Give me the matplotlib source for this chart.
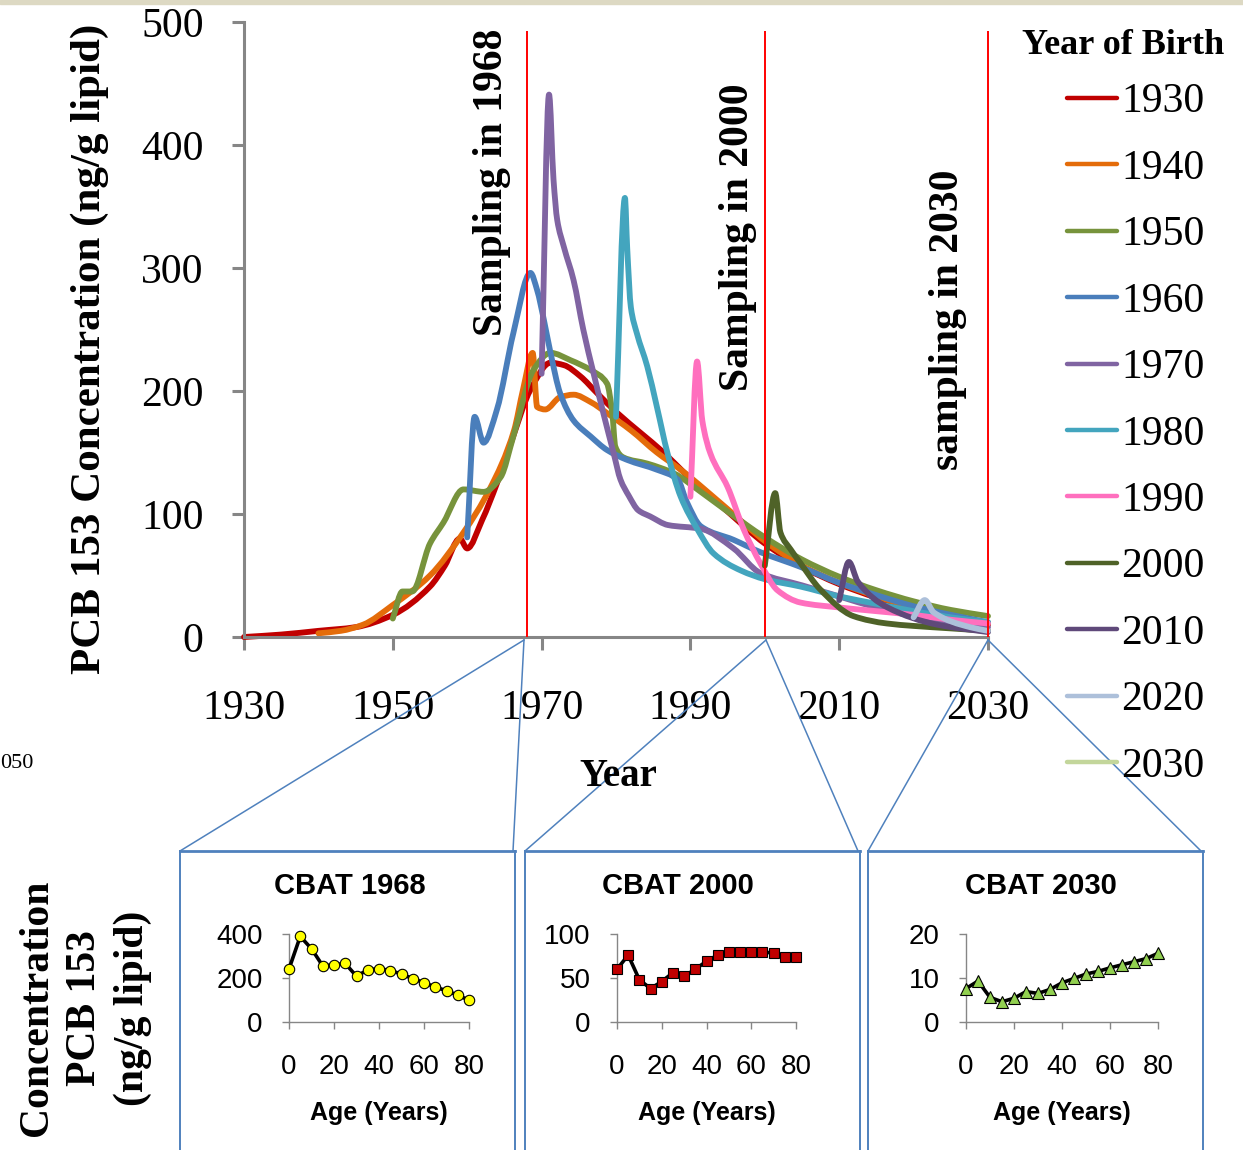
import matplotlib
matplotlib.use("Agg")
import matplotlib.pyplot as plt
from matplotlib.lines import Line2D
from matplotlib.patches import Rectangle, PathPatch
from matplotlib.path import Path

# ---------------- data ----------------
birth_years = [1930, 1940, 1950, 1960, 1970, 1980, 1990, 2000, 2010, 2020, 2030]
colors = ['#C00000', '#E46C0A', '#77933C', '#4A7EBB', '#8064A2', '#43A5BE',
          '#FF6FBE', '#4F6228', '#5F497A', '#ADC0DA', '#C3D69B']

yr_1930 = [1930, 1935, 1940, 1945, 1950, 1955, 1957, 1959, 1960, 1962, 1964, 1966, 1968.5, 1971.2, 1973, 1975.2,
           1977.5, 1980.2, 1983.3, 1986.4, 1989.1, 1995, 2000, 2005, 2010, 2015, 2020, 2025, 2030]
c_1930 = [0, 2, 5, 8, 18, 41, 58, 80, 72, 95, 125, 160, 201, 223, 221, 212,
          198, 182, 166, 150, 134, 102, 76, 57, 43, 32, 23, 16, 10]

yr_1940 = [1940, 1943, 1946, 1950, 1955, 1959.5, 1963, 1966.3, 1967.5, 1968.8, 1969.4, 1970.5, 1972.5, 1974.3,
           1976.6, 1978.8, 1982, 1985.5, 1988.7, 1995, 2000, 2005, 2010, 2015, 2020, 2025, 2030]
c_1940 = [3, 5, 10, 26, 50, 85, 120, 168, 201, 231, 187, 185, 195, 197,
          191, 182, 168, 150, 136, 104, 78, 58, 44, 33, 24, 16, 11]

yr_1950 = [1950, 1951.3, 1952.6, 1955, 1956.8, 1959.5, 1962.2, 1964.5, 1966.2, 1968.9, 1971.2, 1973.9, 1976.6,
           1978.8, 1979.5, 1979.9, 1981, 1984.2, 1987.8, 1991.4, 1995, 2000, 2005, 2010, 2015, 2020, 2025, 2030]
c_1950 = [15, 37, 37, 76, 93, 120, 118, 130, 163, 217, 231, 225, 217,
          206, 182, 155, 146, 141, 133, 118, 102, 81, 63, 49, 38, 29, 22, 17]

yr_1960 = [1960, 1961, 1962.2, 1964, 1966.2, 1968.5, 1969.4, 1970.3, 1971.2, 1972.5, 1974.3, 1976.6, 1978.8,
           1981.5, 1985.5, 1988.3, 1989.5, 1991.4, 1995.8, 1999.4, 2004.8, 2010, 2015, 2020, 2025, 2030]
c_1960 = [81, 179, 158, 185, 247, 296, 282, 258, 231, 198, 176, 163, 152,
          144, 136, 128, 110, 90, 79, 69, 57, 44, 34, 25, 18, 12]

yr_1970 = [1970, 1971, 1971.6, 1972.1, 1973, 1974.3, 1975.6, 1977, 1978.3, 1979.7, 1980.6, 1981.7, 1983,
           1984.6, 1987, 1991.4, 1995.8, 1999.4, 2005, 2010, 2015, 2020, 2025, 2030]
c_1970 = [214, 441, 372, 339, 317, 290, 250, 214, 182, 149, 128, 115, 103,
          98, 91, 88, 72, 52, 42, 33, 24, 17, 12, 8]

yr_1980 = [1980, 1981.2, 1981.5, 1982, 1982.8, 1984.2, 1985.5, 1986.9, 1988.7, 1991, 1993.1, 1996.8, 2000,
           2004.8, 2010, 2015, 2020, 2025, 2030]
c_1980 = [179, 357, 317, 268, 247, 220, 187, 150, 114, 87, 68, 54, 47,
          41, 33, 27, 21, 16, 12]

yr_1990 = [1990, 1990.9, 1991.6, 1992.7, 1995, 1997.2, 1999.4, 2001.7, 2004.8, 2010, 2015, 2020, 2025, 2030]
c_1990 = [114, 224, 176, 149, 122, 87, 60, 38, 28, 24, 21, 18, 14, 11]

yr_2000 = [2000, 2001.4, 2002.1, 2003.5, 2004.8, 2007.4, 2011.9, 2016.4, 2020, 2025, 2030]
c_2000 = [58, 117, 85, 71, 60, 39, 17, 11, 9, 7, 5]

yr_2010 = [2010, 2011.3, 2012.5, 2016.5, 2023.2, 2030]
c_2010 = [30, 61, 45, 24, 10, 4]

yr_2020 = [2020, 2021.5, 2022.7, 2027.6, 2030]
c_2020 = [16, 30, 20, 8, 5]

yr_2030 = [2030]
c_2030 = [7.6]

series_years = [yr_1930, yr_1940, yr_1950, yr_1960, yr_1970, yr_1980, yr_1990, yr_2000, yr_2010, yr_2020, yr_2030]
series_conc = [c_1930, c_1940, c_1950, c_1960, c_1970, c_1980, c_1990, c_2000, c_2010, c_2020, c_2030]

sampling_years = [1968, 2000, 2030]
sampling_labels = ["Sampling in 1968", "Sampling in 2000", "sampling in 2030"]

x_ticks = [1930, 1950, 1970, 1990, 2010, 2030]
y_ticks = [0, 100, 200, 300, 400, 500]

ages = [0, 5, 10, 15, 20, 25, 30, 35, 40, 45, 50, 55, 60, 65, 70, 75, 80]
cbat_1968 = [241, 389, 333, 255, 260, 266, 208, 237, 243, 234, 218, 197, 179, 159, 142, 122, 99]
cbat_2000 = [60, 76, 48, 38, 46, 56, 52, 60, 69, 76, 79, 80, 80, 80, 78, 74, 74]
cbat_2030 = [7.6, 9.3, 5.6, 4.6, 5.4, 6.9, 6.5, 7.4, 8.9, 9.9, 10.9, 11.5, 12.3, 13.0, 13.7, 14.4, 15.6]
cbat_titles = ["CBAT 1968", "CBAT 2000", "CBAT 2030"]
cbat_yticks = [[0, 200, 400], [0, 50, 100], [0, 10, 20]]
age_ticks = [0, 20, 40, 60, 80]

# ---------------- figure ----------------
W, H = 1243, 1150
fig = plt.figure(figsize=(W / 100, H / 100), dpi=100)


def fx(px):
    return px / W


def fy(py):
    return 1 - py / H


SERIF = ['Liberation Serif', 'DejaVu Serif']
SANS = ['Liberation Sans', 'DejaVu Sans']
GREY = '#868686'
BOXBLUE = '#4F81BD'


def smooth_path(xs, ys):
    """Smoothed (monotone cubic Hermite) rendering path through the given points."""
    n = len(xs)
    h = [xs[k + 1] - xs[k] for k in range(n - 1)]
    d = [(ys[k + 1] - ys[k]) / h[k] for k in range(n - 1)]
    m = [0.0] * n
    m[0] = d[0]
    m[-1] = d[-1]
    for k in range(1, n - 1):
        if d[k - 1] * d[k] <= 0:
            m[k] = 0.0
        else:
            w1 = 2 * h[k] + h[k - 1]
            w2 = h[k] + 2 * h[k - 1]
            m[k] = (w1 + w2) / (w1 / d[k - 1] + w2 / d[k])
    verts = [(xs[0], ys[0])]
    codes = [Path.MOVETO]
    for k in range(n - 1):
        t = h[k] / 3.0
        verts += [(xs[k] + t, ys[k] + m[k] * t), (xs[k + 1] - t, ys[k + 1] - m[k + 1] * t), (xs[k + 1], ys[k + 1])]
        codes += [Path.CURVE4] * 3
    return Path(verts, codes)


# top beige strip
fig.patches.append(Rectangle((0, fy(4)), 1, fy(0) - fy(4), transform=fig.transFigure,
                             color='#DDD9C3', zorder=0))

# main axes
ax = fig.add_axes([fx(244), fy(637), fx(988) - fx(244), fy(22) - fy(637)])
ax.set_xlim(1930, 2030)
ax.set_ylim(0, 500)
for s in ['top', 'right']:
    ax.spines[s].set_visible(False)
for s in ['left', 'bottom']:
    ax.spines[s].set_color(GREY)
    ax.spines[s].set_linewidth(2.2)
ax.set_xticks(x_ticks)
ax.set_yticks(y_ticks)
ax.tick_params(axis='both', colors=GREY, width=2.2, length=9, direction='out', labelcolor='black')
ax.tick_params(axis='x', pad=29)
ax.tick_params(axis='y', pad=20)
for lab in ax.get_xticklabels() + ax.get_yticklabels():
    lab.set_fontfamily(SERIF)
    lab.set_fontsize(30)

handles = []
for yrs, conc, col, by in zip(series_years, series_conc, colors, birth_years):
    if len(yrs) > 1:
        ax.add_patch(PathPatch(smooth_path(yrs, conc), fill=False, edgecolor=col, lw=4.2,
                               capstyle='round', joinstyle='round', clip_on=False, zorder=2))
    else:
        ax.plot(yrs, conc, color=col, lw=4.2, clip_on=False, zorder=2)
    handles.append(Line2D([], [], color=col, lw=3.2, solid_capstyle='round', label=str(by)))

ax.vlines(sampling_years, 0, 493, colors='#FF0000', lw=1.4, zorder=3, clip_on=False)

# sampling labels
for px, py, txt in zip([492, 738, 948], [182, 237, 320], sampling_labels):
    fig.text(fx(px), fy(py), txt, rotation=90, ha='center', va='center',
             fontsize=30, fontweight='bold', family=SERIF)

# axis labels
fig.text(fx(90), fy(349), "PCB 153 Concentration (ng/g lipid)", rotation=90, ha='center', va='center',
         fontsize=31, fontweight='bold', family=SERIF)
fig.text(fx(618), fy(776), "Year", ha='center', va='center', fontsize=28, fontweight='bold', family=SERIF)
fig.text(fx(0), fy(763), "050", ha='left', va='center', fontsize=16, family=SERIF)

# legend
fig.text(fx(1123), fy(45), "Year of Birth", ha='center', va='center',
         fontsize=26, fontweight='bold', family=SERIF)
leg = fig.legend(handles=handles, loc='upper left', bbox_to_anchor=(fx(1067), fy(83)),
                 bbox_transform=fig.transFigure, frameon=False,
                 prop={'family': SERIF, 'size': 30},
                 handlelength=1.2, handletextpad=0.1, labelspacing=0.67, borderpad=0, borderaxespad=0)


# boxes & connectors
def fline(x0, y0, x1, y1, lw):
    fig.add_artist(Line2D([fx(x0), fx(x1)], [fy(y0), fy(y1)], transform=fig.transFigure,
                          color=BOXBLUE, lw=lw, clip_on=False))


for (l, r), apex in zip([(180, 515), (525, 860), (868, 1203)], [524, 766, 988]):
    fline(apex, 640, l, 851, 1.1)
    fline(apex, 640, r - 2, 851, 1.1)
    fline(l, 851, r, 851, 2.0)
    fline(l, 851, l, 1152, 1.4)
    fline(r, 851, r, 1152, 1.4)

# small panels
panel_x = [(289, 469), (617, 796), (966, 1158)]
title_cx = [350, 678, 1041]
cbat_data = [cbat_1968, cbat_2000, cbat_2030]
markers = ['o', 's', '^']
mfc = ['#FFFF00', '#C00000', '#92D050']
msz = [7.5, 7.5, 8]
for i in range(3):
    x0, x1 = panel_x[i]
    sax = fig.add_axes([fx(x0), fy(1022), fx(x1) - fx(x0), fy(934) - fy(1022)])
    sax.plot(ages, cbat_data[i], color='black', lw=2.6, marker=markers[i], markersize=msz[i],
             markerfacecolor=mfc[i], markeredgecolor='black', markeredgewidth=0.8, clip_on=False, zorder=3)
    sax.set_xlim(0, 80)
    yt = cbat_yticks[i]
    sax.set_ylim(yt[0], yt[-1])
    sax.set_xticks(age_ticks)
    sax.set_yticks(yt)
    for s in ['top', 'right']:
        sax.spines[s].set_visible(False)
    for s in ['left', 'bottom']:
        sax.spines[s].set_color(GREY)
        sax.spines[s].set_linewidth(1.0)
    sax.tick_params(axis='both', colors=GREY, width=1.0, length=5, direction='out', labelcolor='black')
    sax.tick_params(axis='x', pad=18)
    sax.tick_params(axis='y', pad=14)
    for lab in sax.get_xticklabels() + sax.get_yticklabels():
        lab.set_fontfamily(SANS)
        lab.set_fontsize(20)
    fig.text(fx(title_cx[i]), fy(886), cbat_titles[i], ha='center', va='center',
             fontsize=21, fontweight='bold', family=SANS)
    fig.text(fx((x0 + x1) / 2), fy(1113), "Age (Years)", ha='center', va='center',
             fontsize=18, fontweight='bold', family=SANS)

fig.text(fx(85), fy(1008), "Concentration\nPCB 153\n(ng/g lipid)", rotation=90, ha='center', va='center',
         multialignment='center', linespacing=1.33, fontsize=30, fontweight='bold', family=SERIF)

fig.savefig("out.png", dpi=100)
